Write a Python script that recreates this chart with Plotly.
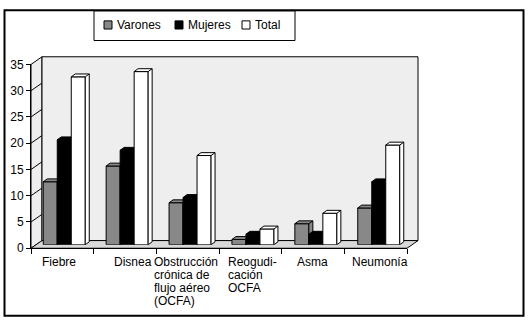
import plotly.graph_objects as go

# ---------------- data ----------------
categories = ["Fiebre", "Disnea", "Obstrucción crónica de flujo aéreo (OCFA)",
              "Reogudicación OCFA", "Asma", "Neumonía"]
tick_labels = ["Fiebre", "Disnea", "Obstrucción<br>crónica de<br>flujo aéreo<br>(OCFA)",
               "Reogudi-<br>cación<br>OCFA", "Asma", "Neumonía"]
series_names = ["Varones", "Mujeres", "Total"]
varones = [12, 15, 8, 1, 4, 7]
mujeres = [20, 18, 9, 2, 2, 12]
total = [32, 33, 17, 3, 6, 19]
y_ticks = [0, 5, 10, 15, 20, 25, 30, 35]

# ---------------- style / geometry ----------------
W, H = 530, 328
FONT = "Arial, Liberation Sans, sans-serif"
colors = ["#888888", "#000000", "#ffffff"]
YMAX = 35

def px(x):
    return x / W

def py(y):
    return 1 - y / H

FRONT = dict(x0=31, x1=407, y0=252, y1=60)     # front plane (axes)
BACK = dict(x0=42, x1=418, y0=244, y1=52)      # back wall
BARS = dict(x0=32.8, x1=410.2, y0=248.3, y1=56.5)  # bar plane
n = len(categories)
bar_w = 0.2226
offsets = [-1.5 * bar_w, -0.5 * bar_w, 0.5 * bar_w]
DX = 4 * n / (BARS["x1"] - BARS["x0"])          # depth offsets in data units
DY = 3 * YMAX / (BARS["y0"] - BARS["y1"])

# category label placement (pixels): anchor mode and horizontal shift per label
LABEL_ANCHOR = ["center", "center", "left", "left", "center", "center"]
LABEL_XSHIFT = [-3.5, 8, -35.5, -24, -1, 4]
LABEL_Y0 = 266
LABEL_LINE = 13.7

fig = go.Figure()

series = [varones, mujeres, total]
axes_ids = [("x2", "y2"), ("x3", "y3"), ("x4", "y4")]
for name, vals, col, off, (xa, ya) in zip(series_names, series, colors, offsets, axes_ids):
    xs = list(range(n))
    fig.add_trace(go.Bar(
        x=xs, y=vals, width=bar_w, offset=off, name=name,
        marker=dict(color=col, line=dict(color="black", width=1)),
        xaxis=xa, yaxis=ya, showlegend=False,
        customdata=categories,
        hovertemplate="%{customdata}<br>" + name + ": %{y}<extra></extra>",
    ))
    # top + side faces of each 3D column, derived from the values
    for xi, v in zip(xs, vals):
        xl = xi + off
        xr = xl + bar_w
        fx = [xr, xl, xl + DX, xr + DX, xr, xr, xr + DX, xr + DX]
        fy = [v, v, v + DY, v + DY, v, 0, DY, v + DY]
        fig.add_trace(go.Scatter(
            x=fx, y=fy, mode="lines", fill="toself", fillcolor=col,
            line=dict(color="black", width=1), xaxis=xa, yaxis=ya,
            showlegend=False, hoverinfo="skip",
        ))

shapes = []
# side wall
shapes.append(dict(type="path", xref="paper", yref="paper", layer="below",
                   path=f"M{px(FRONT['x0'])},{py(FRONT['y0'])} L{px(FRONT['x0'])},{py(FRONT['y1'])} "
                        f"L{px(BACK['x0'])},{py(BACK['y1'])} L{px(BACK['x0'])},{py(BACK['y0'])} Z",
                   fillcolor="#eeeeee", line=dict(color="black", width=1)))
# back wall
shapes.append(dict(type="rect", xref="paper", yref="paper", layer="below",
                   x0=px(BACK["x0"]), x1=px(BACK["x1"]), y0=py(BACK["y0"]), y1=py(BACK["y1"]),
                   fillcolor="#eeeeee", line=dict(color="black", width=1)))
# floor
shapes.append(dict(type="path", xref="paper", yref="paper", layer="below",
                   path=f"M{px(FRONT['x0'])},{py(FRONT['y0'])} L{px(FRONT['x1'])},{py(FRONT['y0'])} "
                        f"L{px(BACK['x1'])},{py(BACK['y0'])} L{px(BACK['x0'])},{py(BACK['y0'])} Z",
                   fillcolor="#d9d9d9", line=dict(color="black", width=1)))
# diagonal grid segments on the side wall
sf = (FRONT["y0"] - FRONT["y1"]) / YMAX
for v in y_ticks[1:-1]:
    shapes.append(dict(type="line", xref="paper", yref="paper", layer="below",
                       x0=px(FRONT["x0"]), y0=py(FRONT["y0"] - v * sf),
                       x1=px(BACK["x0"]), y1=py(BACK["y0"] - v * sf),
                       line=dict(color="black", width=1)))

annotations = []
for i, lab in enumerate(tick_labels):
    for j, line in enumerate(lab.split("<br>")):
        annotations.append(dict(xref="x5", yref="paper", x=i, y=py(LABEL_Y0 + j * LABEL_LINE),
                                xanchor=LABEL_ANCHOR[i], yanchor="middle", align="left",
                                xshift=LABEL_XSHIFT[i], text=line, showarrow=False,
                                font=dict(family=FONT, size=12, color="black")))

# manual legend
LEG = dict(x0=94, x1=295, y0=4, y1=35)
shapes.append(dict(type="rect", xref="paper", yref="paper", layer="above",
                   x0=px(LEG["x0"]), x1=px(LEG["x1"]), y0=py(LEG["y1"]), y1=py(LEG["y0"]),
                   fillcolor="white", line=dict(color="black", width=1)))
leg_sym_x = [104, 175, 242]
for sx, name, col in zip(leg_sym_x, series_names, colors):
    shapes.append(dict(type="rect", xref="paper", yref="paper", layer="above",
                       x0=px(sx), x1=px(sx + 8), y0=py(23), y1=py(14.5),
                       fillcolor=col, line=dict(color="black", width=1)))
    annotations.append(dict(xref="paper", yref="paper", x=px(sx + 11), y=py(19),
                            xanchor="left", yanchor="middle", text=name, showarrow=False,
                            font=dict(family=FONT, size=12, color="black")))

# outer frame
shapes.append(dict(type="rect", xref="paper", yref="paper", layer="above",
                   x0=px(4.5), x1=px(523.5), y0=py(322.5), y1=py(3.5),
                   line=dict(color="black", width=2)))

hidden = dict(visible=False, showgrid=False, zeroline=False)
fig.update_layout(
    width=W, height=H,
    margin=dict(l=0, r=0, t=0, b=0),
    paper_bgcolor="white", plot_bgcolor="rgba(0,0,0,0)",
    showlegend=False, barmode="overlay",
    font=dict(family=FONT, size=12, color="black"),
    # back wall grid
    xaxis=dict(domain=[px(BACK["x0"]), px(BACK["x1"])], range=[0, 1], anchor="y",
               showgrid=False, zeroline=False, showticklabels=False, ticks="", showline=False),
    yaxis=dict(domain=[py(BACK["y0"]), py(BACK["y1"])], range=[0, YMAX], anchor="x",
               tickvals=y_ticks, showgrid=True, gridcolor="black", gridwidth=1,
               zeroline=False, showticklabels=False, ticks="", showline=False),
    # bars
    xaxis2=dict(domain=[px(BARS["x0"]), px(BARS["x1"])], range=[-0.5, n - 0.5], anchor="y2", **hidden),
    yaxis2=dict(domain=[py(BARS["y0"]), py(BARS["y1"])], range=[0, YMAX], anchor="x2", **hidden),
    xaxis3=dict(overlaying="x2", range=[-0.5, n - 0.5], anchor="y3", **hidden),
    yaxis3=dict(overlaying="y2", range=[0, YMAX], anchor="x3", **hidden),
    xaxis4=dict(overlaying="x2", range=[-0.5, n - 0.5], anchor="y4", **hidden),
    yaxis4=dict(overlaying="y2", range=[0, YMAX], anchor="x4", **hidden),
    # front axes
    xaxis5=dict(domain=[px(FRONT["x0"]), px(FRONT["x1"])], range=[-0.5, n - 0.5], anchor="y5",
                tickmode="array", tickvals=[i - 0.5 for i in range(n + 1)],
                showticklabels=False, ticks="outside", ticklen=5, tickcolor="black",
                showline=True, linecolor="black", linewidth=1, showgrid=False, zeroline=False),
    yaxis5=dict(domain=[py(FRONT["y0"]), py(FRONT["y1"])], range=[0, YMAX], anchor="x5",
                tickvals=y_ticks, ticks="outside", ticklen=4, tickcolor="black",
                showline=True, linecolor="black", linewidth=1, showgrid=False, zeroline=False,
                tickfont=dict(family=FONT, size=12, color="black")),
    shapes=shapes,
    annotations=annotations,
)

fig.write_html("out.html", config={"displayModeBar": False},
               post_script="document.body.style.margin='0';document.body.style.overflow='hidden';")
